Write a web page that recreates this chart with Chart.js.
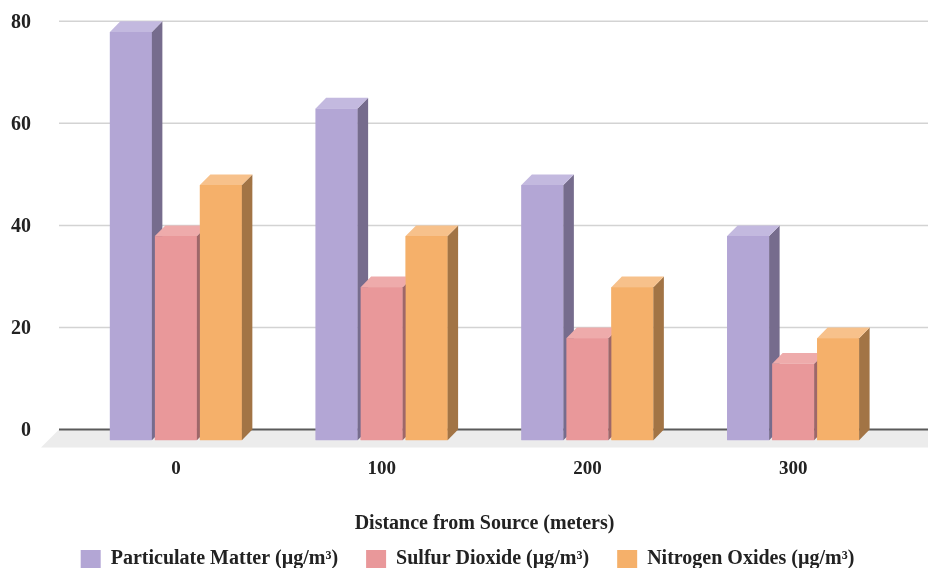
<!DOCTYPE html>
<html>
<head>
<meta charset="utf-8">
<script src="https://cdn.jsdelivr.net/npm/chart.js@4.4.1/dist/chart.umd.min.js"></script>
<style>
  html, body { margin: 0; padding: 0; background: #fff; }
  #wrap { width: 928px; height: 568px; }
</style>
</head>
<body>
<div id="wrap"><canvas id="chart"></canvas></div>
<script>
// ── Datos ────────────────────────────────────────────────────────────────
const distances   = ['0', '100', '200', '300'];
const particulate = [80, 65, 50, 40];
const sulfur      = [40, 30, 20, 15];
const nitrogen    = [50, 40, 30, 20];
const yTicks      = [0, 20, 40, 60, 80];

// ── Estilo 3D ────────────────────────────────────────────────────────────
const DX = 10.5, DY = 10.7;
const faces = [
    { front: '#b3a6d5', side: '#766c8d', top: '#c3b9df' },
    { front: '#e9989a', side: '#9e6769', top: '#eeabab' },
    { front: '#f5b06a', side: '#a27445', top: '#f7c18b' },
];
const SERIF = '"Liberation Serif", "Times New Roman", serif';
const font = size => ({ family: SERIF, size, weight: 'bold' });

const box3d = {
    id: 'box3d',
    beforeLayout(chart) {
        // leyenda algo mas baja
        const lg = chart.legend;
        if (lg && !lg._patched) {
            const fit = lg.fit;
            lg.fit = function () { fit.call(this); this.height -= 11; };
            lg._patched = true;
        }
    },
    afterLayout(chart) {
        chart.legend.left += 14;
        chart.legend.right += 14;
    },
    beforeDatasetsDraw(chart) {
        const { ctx, chartArea, scales: { y } } = chart;
        const back = v => y.getPixelForValue(v) - DY;
        const x0 = chartArea.left - 14, x1 = chart.width;
        const z = back(0);
        ctx.save();
        // suelo
        ctx.fillStyle = '#ececec';
        ctx.beginPath();
        ctx.moveTo(x0, z);
        ctx.lineTo(x1, z);
        ctx.lineTo(x1, z + 18);
        ctx.lineTo(x0 - 18, z + 18);
        ctx.closePath();
        ctx.fill();
        // rejilla
        ctx.strokeStyle = '#d3d3d3';
        ctx.lineWidth = 1.5;
        yTicks.filter(v => v > 0).forEach(v => {
            ctx.beginPath();
            ctx.moveTo(x0, back(v));
            ctx.lineTo(x1, back(v));
            ctx.stroke();
        });
        ctx.strokeStyle = '#5a5a5a';
        ctx.lineWidth = 2;
        ctx.beginPath();
        ctx.moveTo(x0, z);
        ctx.lineTo(x1, z);
        ctx.stroke();
        ctx.restore();
    },
    afterDatasetsDraw(chart) {
        const { ctx } = chart;
        ctx.save();
        chart.data.datasets.forEach((ds, di) => {
            const f = faces[di];
            chart.getDatasetMeta(di).data.forEach(el => {
                const { x, y, base, width } = el.getProps(['x', 'y', 'base', 'width'], true);
                const l = x - width / 2, r = x + width / 2;
                ctx.fillStyle = f.front;
                ctx.fillRect(l, y, width, base - y);
                ctx.fillStyle = f.side;
                ctx.beginPath();
                ctx.moveTo(r, y); ctx.lineTo(r + DX, y - DY);
                ctx.lineTo(r + DX, base - DY); ctx.lineTo(r, base);
                ctx.closePath(); ctx.fill();
                ctx.fillStyle = f.top;
                ctx.beginPath();
                ctx.moveTo(l, y); ctx.lineTo(l + DX, y - DY);
                ctx.lineTo(r + DX, y - DY); ctx.lineTo(r, y);
                ctx.closePath(); ctx.fill();
            });
        });
        ctx.restore();
    },
};

const mk = (label, data, i) => ({
    label, data,
    backgroundColor: faces[i].front,
    borderWidth: 0,
    barPercentage: 0.933,
    categoryPercentage: 0.656,
});

new Chart(document.getElementById('chart').getContext('2d'), {
    type: 'bar',
    data: {
        labels: distances,
        datasets: [
            mk('Particulate Matter (µg/m³)', particulate, 0),
            mk('Sulfur Dioxide (µg/m³)', sulfur, 1),
            mk('Nitrogen Oxides (µg/m³)', nitrogen, 2),
        ],
    },
    options: {
        responsive: true, maintainAspectRatio: false, animation: false,
        layout: { padding: { left: 11, right: 32, top: 32, bottom: 0 } },
        scales: {
            x: {
                grid: { display: false, drawTicks: false },
                border: { display: false },
                ticks: { color: '#222', font: font(19), padding: 17 },
                title: {
                    display: true, text: 'Distance from Source (meters)',
                    color: '#222', font: font(20), padding: { top: 15, bottom: -15 },
                },
            },
            y: {
                min: 0, max: 80,
                grid: { display: false, drawTicks: false },
                border: { display: false },
                ticks: { stepSize: 20, color: '#222', font: font(20), padding: 42, labelOffset: -9 },
                afterFit(axis) {
                    axis.width = 62;
                    axis.paddingTop = 0;
                    axis.paddingBottom = 0;
                },
            },
        },
        plugins: {
            legend: {
                position: 'bottom',
                labels: { boxWidth: 20, boxHeight: 18, padding: 28, color: '#222', font: font(20) },
            },
            tooltip: { enabled: false },
        },
    },
    plugins: [box3d],
});
</script>
</body>
</html>
